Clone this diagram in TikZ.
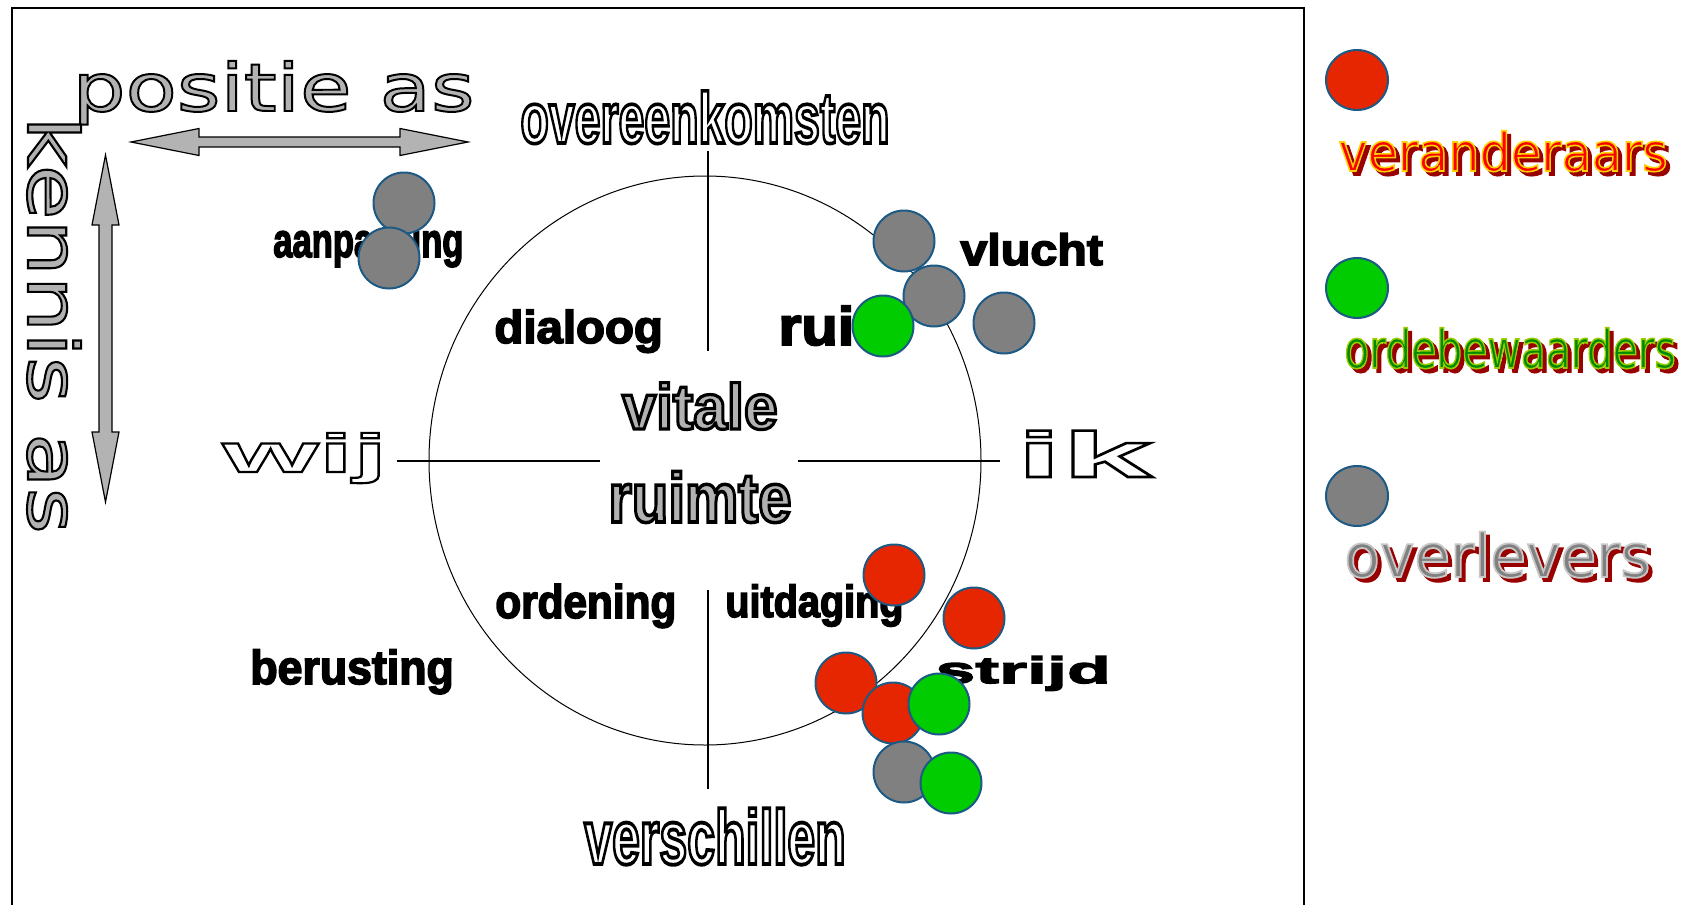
\documentclass[tikz,border=0pt]{standalone}
\usepackage{fontspec}
\usetikzlibrary{shapes.geometric}
\newfontfamily\labfont{Liberation Sans}[BoldFeatures={FakeBold=3.5}]
\newfontfamily\rimfont{Liberation Sans}[BoldFeatures={FakeBold=5}]
\newfontfamily\widefont{Liberation Sans}[FakeStretch=2.0, BoldFeatures={FakeBold=4}]
\newfontfamily\axisfont{DejaVu Sans}[FakeStretch=1.27, FakeBold=3]
\newfontfamily\legfont{DejaVu Sans}[FakeBold=3]
\definecolor{dotred}{HTML}{E52600}
\definecolor{dotgreen}{HTML}{00CC00}
\definecolor{dotgray}{HTML}{808080}
\definecolor{dotline}{HTML}{1C5A85}
\definecolor{axisgray}{HTML}{B3B3B3}
\definecolor{shadowred}{HTML}{990000}
% fill colour, stroke colour, text
\newcommand{\duo}[3]{\special{pdf:bcolor #1 #2}#3\special{pdf:ecolor}}
\tikzset{
  dot/.style={circle, draw=dotline, line width=1pt, minimum size=30.5pt, inner sep=0pt},
  legdot/.style={ellipse, draw=dotline, line width=1pt, minimum width=31pt, minimum height=30pt, inner sep=0pt},
  lab/.style={inner sep=0pt, anchor=base west, font=\labfont\bfseries\fontsize{#1}{#1}\selectfont},
  hollow/.style={inner sep=0pt, anchor=base, font=\rimfont\bfseries\fontsize{#1}{#1}\selectfont},
  wide/.style={inner sep=0pt, anchor=base west, font=\widefont\bfseries\fontsize{#1}{#1}\selectfont},
  axistext/.style={inner sep=0pt, anchor=base west, font=\axisfont\fontsize{#1}{#1}\selectfont},
  legtext/.style={inner sep=0pt, anchor=base west, font=\legfont\fontsize{#1}{#1}\selectfont},
  crossline/.style={line width=1pt},
  axisarrow/.style={fill=axisgray, draw=black, line width=0.6pt}
}

\begin{document}
\begin{tikzpicture}[x=0.5pt, y=-0.5pt]
        \useasboundingbox (0,0) rectangle (1699,905);
        %frame
        \draw[line width=0.75pt] (12,905) -- (12,8) -- (1304,8) -- (1304,905);
        %ring
        \node[ellipse, draw, line width=0.5pt, minimum width=276pt, minimum height=284.5pt, inner sep=0pt] (ring) at (705,460.5) {};
        \coordinate (ntop) at (708,151);
        \coordinate (ntopin) at (708,351);
        \coordinate (nbotin) at (708,590);
        \coordinate (nbot) at (708,789);
        \coordinate (wleft) at (397,461);
        \coordinate (wleftin) at (600,461);
        \coordinate (erightin) at (798,461);
        \coordinate (eright) at (1000,461);
        \draw[crossline] (ntop) -- (ntopin);
        \draw[crossline] (nbotin) -- (nbot);
        \draw[crossline] (wleft) -- (wleftin);
        \draw[crossline] (erightin) -- (eright);
        %axes
        \node[axistext=33] (positie) at (72,111) {\duo{[0.7 0.7 0.7]}{[0 0 0]}{positie\hspace{14pt}as}};
        \node[axistext=35, rotate=-90] (kennis) at (28,116) {\duo{[0.7 0.7 0.7]}{[0 0 0]}{kennis\hspace{15pt}as}};
        \draw[axisarrow] (131,142) -- (199,128.5) -- (199,137) -- (400,137) -- (400,128.5) -- (468,142)
          -- (400,155.5) -- (400,147) -- (199,147) -- (199,155.5) -- cycle;
        \draw[axisarrow] (105.5,155) -- (119,225) -- (112,225) -- (112,432) -- (119,432) -- (105.5,502)
          -- (92,432) -- (99,432) -- (99,225) -- (92,225) -- cycle;
        %poles
        \node[hollow=36, xscale=0.645] (overeen) at (705,143) {\duo{[1 1 1]}{[0 0 0]}{overeenkomsten}};
        \node[hollow=38.5, xscale=0.65] (verschil) at (715,864) {\duo{[1 1 1]}{[0 0 0]}{verschillen}};
        \node[wide=27, xscale=1.145] (wij) at (222,472) {\duo{[1 1 1]}{[0 0 0]}{wij}};
        \node[wide=32, xscale=1.27] (ik) at (1016,477) {\duo{[1 1 1]}{[0 0 0]}{ik}};
        \node[hollow=32, xscale=0.95] (vitale) at (700,429) {\duo{[0.7 0.7 0.7]}{[0 0 0]}{vitale}};
        \node[hollow=35, xscale=0.855] (ruimte) at (700,522) {\duo{[0.7 0.7 0.7]}{[0 0 0]}{ruimte}};
        %labels
        \node[lab=23, xscale=1.03] (dialoog) at (494,343) {dialoog};
        \node[lab=27, xscale=1.1] (rui) at (778,345) {rui};
        \node[lab=22, xscale=1.1] (vlucht) at (960,265) {vlucht};
        \node[lab=24, xscale=0.72] (aanpassing) at (273,257) {aanpassing};
        \node[lab=23.5, xscale=0.9] (ordening) at (495,618) {ordening};
        \node[lab=22.5, xscale=0.88] (uitdaging) at (725,617) {uitdaging};
        \node[lab=23.75, xscale=0.94] (berusting) at (250,684) {berusting};
        \node[wide=18.5, xscale=0.97] (strijd) at (935,683) {strijd};
        %groups
        \node[dot, fill=dotgray] (aan1) at (404,203) {};
        \node[dot, fill=dotgray] (aan2) at (389,258) {};
        \node[dot, fill=dotgray] (vlu1) at (904,241) {};
        \node[dot, fill=dotgray] (vlu2) at (934,296) {};
        \node[dot, fill=dotgreen] (vlu3) at (883,326) {};
        \node[dot, fill=dotgray] (vlu4) at (1004,323) {};
        \node[dot, fill=dotred] (str1) at (894,575) {};
        \node[dot, fill=dotred] (str2) at (974,618) {};
        \node[dot, fill=dotred] (str3) at (846,683) {};
        \node[dot, fill=dotred] (str4) at (893,713) {};
        \node[dot, fill=dotgreen] (str5) at (939,704) {};
        \node[dot, fill=dotgray] (str6) at (904,772) {};
        \node[dot, fill=dotgreen] (str7) at (951,783) {};
        %legend
        \node[legdot, fill=dotred] (keyred) at (1357,80) {};
        \node[legdot, fill=dotgreen] (keygreen) at (1357,288) {};
        \node[legdot, fill=dotgray] (keygray) at (1357,496) {};
        \node[legtext=26.5, xscale=0.93, text=shadowred] (verand-s) at (1342,175) {veranderaars};
        \node[legtext=26.5, xscale=0.93] (verand) at (1338,171) {\duo{[1 0 0]}{[1 0.82 0]}{veranderaars}};
        \node[legtext=26.5, xscale=0.77, text=shadowred] (ordeb-s) at (1348,372) {ordebewaarders};
        \node[legtext=26.5, xscale=0.77] (ordeb) at (1344,368) {\duo{[0 0.54 0]}{[0.6 0.8 0]}{ordebewaarders}};
        \node[legtext=30, xscale=0.97, text=shadowred] (overl-s) at (1348,581) {overlevers};
        \node[legtext=30, xscale=0.97] (overl) at (1344,577) {\duo{[0.5 0.5 0.5]}{[0.78 0.78 0.78]}{overlevers}};
      \end{tikzpicture}
\end{document}
